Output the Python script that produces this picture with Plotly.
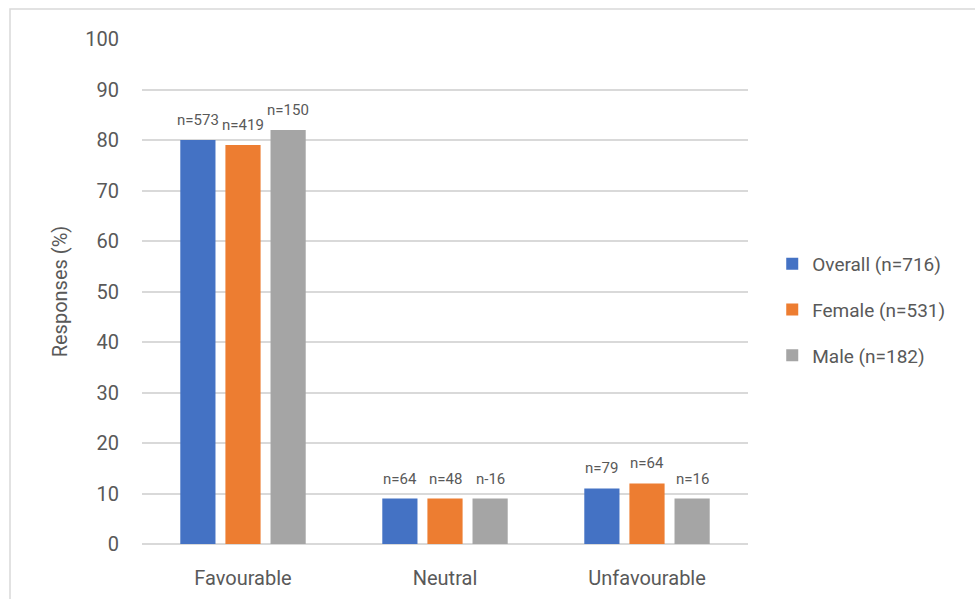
import plotly.graph_objects as go

categories = ["Favourable", "Neutral", "Unfavourable"]
series_names = ["Overall (n=716)", "Female (n=531)", "Male (n=182)"]
overall = [80, 9, 11]
female = [79, 9, 12]
male = [82, 9, 9]
overall_n = ["n=573", "n=64", "n=79"]
female_n = ["n=419", "n=48", "n=64"]
male_n = ["n=150", "n-16", "n=16"]
y_ticks = list(range(0, 101, 10))

colors = ["#4472C4", "#ED7D31", "#A5A5A5"]
font_family = "Roboto, Arial, sans-serif"
text_grey = "#595959"

W, H = 975, 599
ml, mr, mt, mb = 142, 227, 39, 55
pw, ph = W - ml - mr, H - mt - mb
bargap, bargroupgap = 0.33, 0.22

fig = go.Figure()
all_vals = [overall, female, male]
all_labels = [overall_n, female_n, male_n]
for i, (name, vals) in enumerate(zip(series_names, all_vals)):
    fig.add_trace(go.Bar(
        x=categories, y=vals, name=name,
        marker=dict(color=colors[i], line=dict(width=0)),
        legendgroup=f"g{i}",
    ))

# count labels above each bar, shifted to the bar's slot within its group
slot_px = (pw / len(categories)) * (1 - bargap) / len(all_vals)
for i, (vals, labels) in enumerate(zip(all_vals, all_labels)):
    for cat, v, lab in zip(categories, vals, labels):
        fig.add_annotation(x=cat, y=v, text=lab, showarrow=False,
                           xanchor="center", yanchor="bottom",
                           xshift=(i - 1) * slot_px, yshift=9,
                           font=dict(size=15, color=text_grey, family=font_family))

# light frame around the chart area
fig.add_shape(type="rect", xref="paper", yref="paper",
              x0=(10 - ml) / pw, x1=(W + 10 - ml) / pw,
              y0=-(H + 10 - mt - ph) / ph, y1=(ph + mt - 9) / ph,
              line=dict(color="#D9D9D9", width=1.5), fillcolor="rgba(0,0,0,0)", layer="below")

fig.update_layout(
    width=W, height=H,
    margin=dict(l=ml, r=mr, t=mt, b=mb, autoexpand=False),
    paper_bgcolor="white", plot_bgcolor="white",
    barmode="group", bargap=bargap, bargroupgap=bargroupgap,
    font=dict(family=font_family, color=text_grey),
    legend=dict(x=1.04, y=(ph + mt - 310) / ph, yanchor="middle", xanchor="left",
                font=dict(size=19, color=text_grey),
                traceorder="grouped", tracegroupgap=18, itemwidth=30),
    yaxis=dict(range=[0, 100], tickvals=y_ticks, showgrid=True, gridcolor="#D9D9D9",
               gridwidth=1.5, zeroline=True, zerolinecolor="#D9D9D9", zerolinewidth=2,
               tickfont=dict(size=20, color=text_grey), ticklabelstandoff=22,
               title=dict(text="Responses (%)", font=dict(size=20, color=text_grey), standoff=12),
               showline=False, automargin=False),
    xaxis=dict(showline=False, tickfont=dict(size=20, color=text_grey), ticklabelstandoff=20,
               automargin=False),
)

fig.write_html("out.html")
